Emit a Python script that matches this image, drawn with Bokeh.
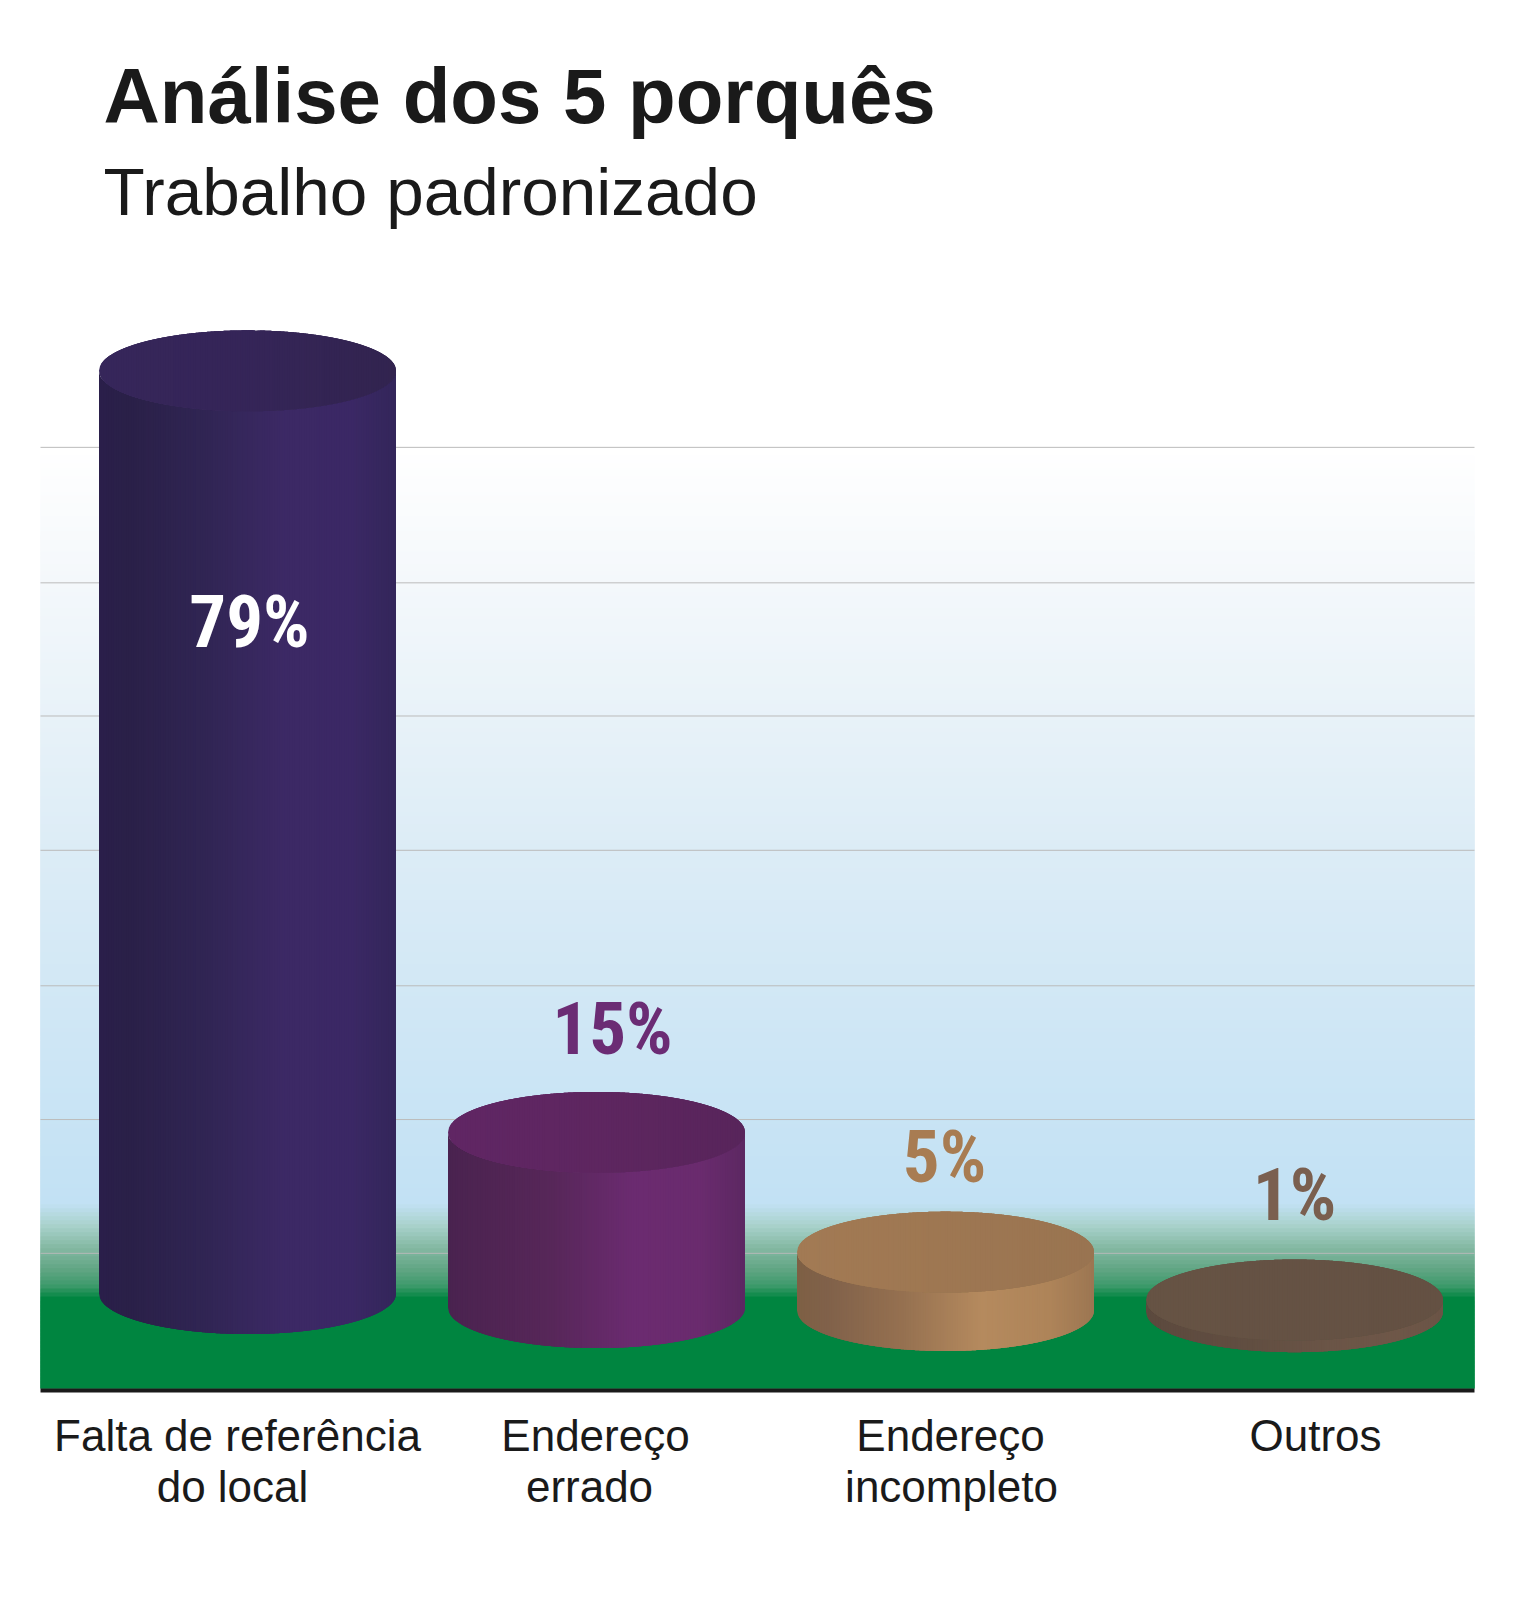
from bokeh.plotting import figure
from bokeh.embed import file_html
from bokeh.resources import INLINE
from bokeh.models import Label, Range1d
from bokeh.core.properties import value
import numpy as np

categories = ["Falta de referência do local", "Endereço errado", "Endereço incompleto", "Outros"]
percent = [79, 15, 5, 1]
percent_labels = ["79%", "15%", "5%", "1%"]
bar_lift = [1.45, 0.25, 0.0, -0.1]
label_colors = ["#FFFFFF", "#6B2C74", "#A87C52", "#7A5F4F"]
grid_levels = [73.9, 62.3, 50.9, 39.4, 27.8, 16.35, 4.9]
side_stops = [
    ["#2A1F4A", "#2A2048", "#302553", "#3C2965", "#3B2865", "#33265A"],
    ["#4A2350", "#4E2452", "#572759", "#6B2B70", "#6A2B6E", "#5C2862"],
    ["#7E6044", "#80614A", "#957050", "#B58A5E", "#AE8459", "#9C7652"],
    ["#5C4A3E", "#5E4B3F", "#614E41", "#6B5547", "#6E5748", "#6A5446"],
]
top_stops = [
    ["#36265A", "#352558", "#32244F"],
    ["#602664", "#5E2660", "#58255B"],
    ["#A27A54", "#9E7752", "#997451"],
    ["#665344", "#655244", "#645143"],
]
title = "Análise dos 5 porquês"
subtitle = "Trabalho padronizado"

W, H = 1510, 1584
X0, DX = 247.0, 349.0
Y0, DY = 1310.0, 11.68
RX, RY = 148.5 / DX, 40.5 / DY
BASE_K = 0.37   # svg text baseline correction, in em

def xd(px): return (px - X0) / DX
def yd(py): return (Y0 - py) / DY
def sy(py): return H - py

def rgb(h): return np.array([int(h[i:i + 2], 16) for i in (1, 3, 5)], float)
def tohex(c): return "#%02X%02X%02X" % tuple(int(round(v)) for v in c)
def ramp(stops, ts, positions=None):
    pos = np.linspace(0, 1, len(stops)) if positions is None else positions
    cs = np.array([rgb(s) for s in stops])
    return [tohex([np.interp(t, pos, cs[:, k]) for k in range(3)]) for t in ts]

p = figure(width=W, height=H, output_backend="svg", toolbar_location=None,
           x_range=Range1d(xd(0), xd(W)), y_range=Range1d(yd(H), yd(0)),
           min_border=0, outline_line_color=None, x_axis_type=None, y_axis_type=None)
p.grid.visible = False
p.background_fill_color = "#FFFFFF"
p.border_fill_color = "#FFFFFF"

# backdrop: bands overlap downward so no seams show
FL, FR, FT, FB = xd(40), xd(1474), 447.0, 1388.0
edges = np.linspace(FT, FB, 236)
mids = (edges[:-1] + edges[1:]) / 2
bg_pos = np.array([447, 580, 850, 1203, 1225, 1246, 1268, 1285, 1298, 1388], float)
bg_col = np.array([rgb(c) for c in ["#FFFFFF", "#F4F8FB", "#DCECF6", "#C2E1F4", "#A9D2CC",
                                    "#86BAA5", "#63A685", "#3E9A6C", "#008540", "#008540"]])
cols = [tohex([np.interp(m, bg_pos, bg_col[:, k]) for k in range(3)]) for m in mids]
p.quad(left=FL, right=FR, top=yd(edges[:-1]), bottom=yd(np.minimum(edges[1:] + 8, FB)),
       fill_color=cols, line_color=None)
p.segment(x0=[FL] * len(grid_levels), x1=[FR] * len(grid_levels), y0=grid_levels, y1=grid_levels,
          line_color="#BBBBBB", line_width=1)
p.quad(left=FL, right=FR, top=yd(1388), bottom=yd(1392), fill_color="#1A1A1A", line_color=None)

# cylinders: strips overlap rightward so no seams show
N = 120
pos6 = [0, 0.1, 0.35, 0.62, 0.85, 1]
for i, v in enumerate(percent):
    base = bar_lift[i]
    top = base + v
    ue = np.linspace(-1, 1, N + 1)
    xs_side, ys_side, xs_top, ys_top = [], [], [], []
    for k in range(N):
        a, b = ue[k], ue[min(k + 3, N)]
        ua = np.linspace(a, b, 8)
        xx = i + RX * ua
        curve = RY * np.sqrt(np.clip(1 - ua ** 2, 0, 1))
        xs_side.append(np.r_[xx, xx[::-1]])
        ys_side.append(np.r_[top - curve, (base - curve)[::-1]])
        xs_top.append(np.r_[xx, xx[::-1]])
        ys_top.append(np.r_[top + curve, (top - curve)[::-1]])
    ts = (ue[:-1] + ue[1:]) / 2 * 0.5 + 0.5
    p.patches(xs_side, ys_side, fill_color=ramp(side_stops[i], ts, pos6), line_color=None)
    p.patches(xs_top, ys_top, fill_color=ramp(top_stops[i], ts), line_color=None)

# percent labels
PCT = 73
lab_px = [(249, 649), (612, 1056), (944, 1184), (1294, 1222)]
p.text(x=[xd(a) for a, _ in lab_px], y=[yd(b - BASE_K * PCT) for _, b in lab_px], text=percent_labels,
       text_color=label_colors, text_font=value("'Roboto Condensed', 'Liberation Sans Narrow', Roboto"),
       text_font_style="bold", text_font_size=f"{PCT}px", text_align="center", text_baseline="alphabetic")

# category labels
CAT = 44
cat_lines = [("Falta de referência", 237, 1451), ("do local", 232, 1502),
             ("Endereço", 595, 1451), ("errado", 589, 1502),
             ("Endereço", 950, 1451), ("incompleto", 951, 1502),
             ("Outros", 1315, 1451)]
p.text(x=[xd(c[1]) for c in cat_lines], y=[yd(c[2] - BASE_K * CAT) for c in cat_lines],
       text=[c[0] for c in cat_lines], text_color="#1A1A1A", text_font=value("Liberation Sans"),
       text_font_size=f"{CAT}px", text_align="center", text_baseline="alphabetic")

TS, SS = 78, 67.5
p.add_layout(Label(x=103, y=sy(124 - BASE_K * TS), x_units="screen", y_units="screen", text=title,
                   text_font="Liberation Sans", text_font_style="bold", text_font_size=f"{TS}px",
                   text_color="#1A1A1A", text_baseline="alphabetic"))
p.add_layout(Label(x=103, y=sy(216 - BASE_K * SS), x_units="screen", y_units="screen", text=subtitle,
                   text_font="Liberation Sans", text_font_size=f"{SS}px",
                   text_color="#1A1A1A", text_baseline="alphabetic"))

open("out.html", "w").write(file_html(p, INLINE))
